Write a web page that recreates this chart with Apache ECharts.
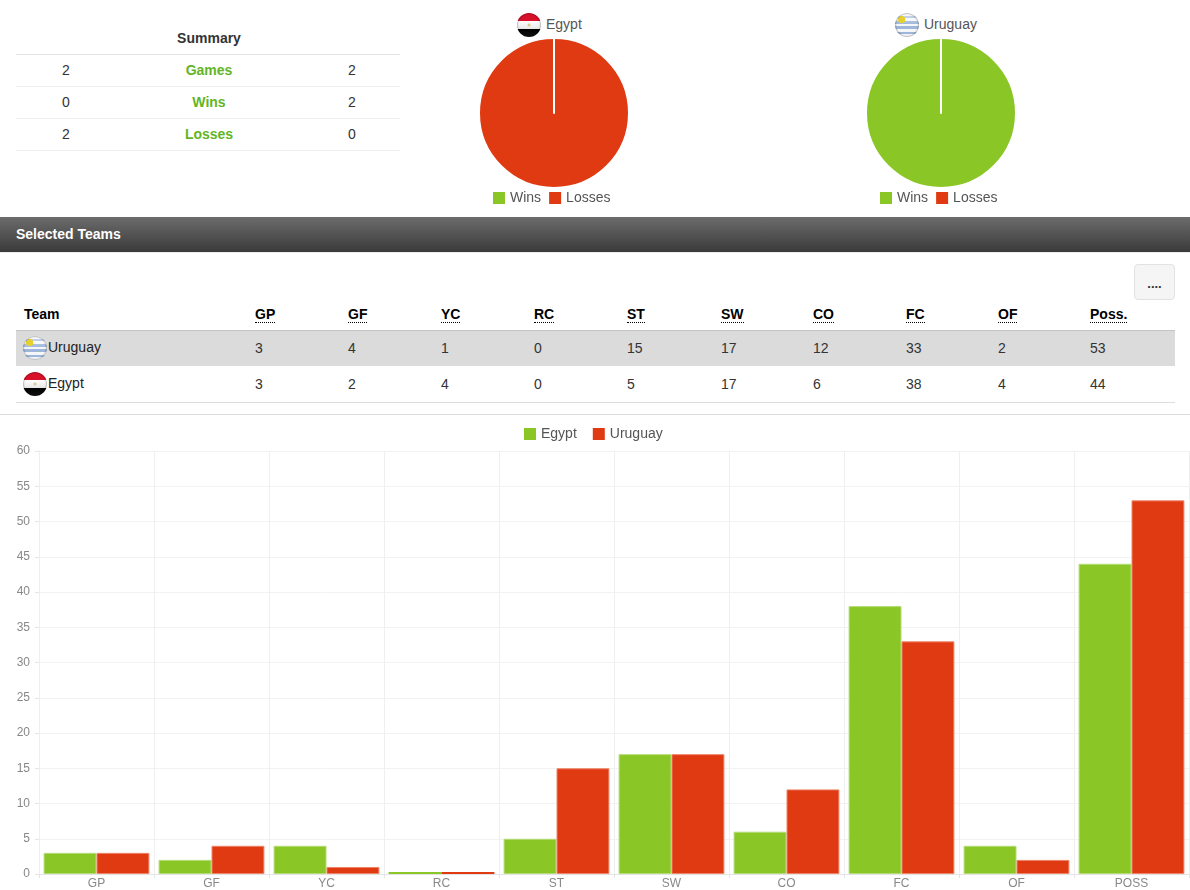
<!DOCTYPE html>
<html>
<head>
<meta charset="utf-8">
<title>Selected Teams</title>
<script src="https://cdn.jsdelivr.net/npm/echarts@6/dist/echarts.min.js"></script>
<style>
	html, body { margin: 0; padding: 0; background: #fff; }
	body { width: 1190px; height: 890px; position: relative; overflow: hidden; font-family: "Liberation Sans", Arial, sans-serif; font-size: 14px; color: #333; }
	.abs { position: absolute; }
	.line { position: absolute; height: 1px; background: #eee; }
	.cell { position: absolute; line-height: 20px; white-space: nowrap; }
	.flag { position: absolute; width: 24px; height: 24px; border-radius: 50%; box-shadow: inset 0 0 2px rgba(0,0,0,.7); }
	.egypt { background: radial-gradient(circle at 50% 50%, #d8c890 0, #d8c890 8%, transparent 10%), linear-gradient(#d8102a 0, #d8102a 33%, #fff 33%, #e8e8e8 66%, #000 66%, #111 100%); }
	.uruguay { background: radial-gradient(circle at 28% 28%, #e8d030 0, #e8d030 14%, transparent 16%), linear-gradient(rgba(255,255,255,.55), rgba(255,255,255,0) 50%), repeating-linear-gradient(#f4f6fa 0, #f4f6fa 2.7px, #9db6da 2.7px, #9db6da 5.3px); }
	.abbr { border-bottom: 1px dotted #000; }
	#bar { position: absolute; left: 0; top: 415px; width: 1190px; height: 475px; }
	.pie { position: absolute; top: 30px; width: 200px; height: 180px; }
</style>
</head>
<body>
<div id="page"></div>
<div id="pieEgypt" class="pie" style="left: 454px;"></div>
<div id="pieUruguay" class="pie" style="left: 841px;"></div>
<div id="bar"></div>

<script type="text/javascript">
	var green = '#8ac626';
	var red = '#e03a12';

	// summary table
	var summaryLabels = ['Games', 'Wins', 'Losses'];
	var summaryEgypt = [2, 0, 2];
	var summaryUruguay = [2, 2, 0];

	// pies
	var pieLabels = ['Wins', 'Losses'];
	var pieEgypt = [0, 2];
	var pieUruguay = [2, 0];

	// team table and bar chart
	var tableHeads = ['GP', 'GF', 'YC', 'RC', 'ST', 'SW', 'CO', 'FC', 'OF', 'Poss.'];
	var barCategories = ['GP', 'GF', 'YC', 'RC', 'ST', 'SW', 'CO', 'FC', 'OF', 'POSS'];
	var egyptStats = [3, 2, 4, 0, 5, 17, 6, 38, 4, 44];
	var uruguayStats = [3, 4, 1, 0, 15, 17, 12, 33, 2, 53];
	var columnX = [255, 348, 441, 534, 627, 721, 813, 906, 998, 1090];

	var html = '';
	function cell(x, y, text, extra) {
		html += '<div class="cell" style="left:' + x + 'px;top:' + (y - 10) + 'px;' + (extra || '') + '">' + text + '</div>';
	}
	function centered(cx, y, text, extra) {
		cell(cx - 100, y, text, 'width:200px;text-align:center;' + (extra || ''));
	}
	function hline(x, y, w, color) {
		html += '<div class="line" style="left:' + x + 'px;top:' + y + 'px;width:' + w + 'px;background:' + color + '"></div>';
	}

	// 汇总表
	centered(209, 38, 'Summary', 'font-weight:bold;');
	hline(16, 54, 384, '#e4e4e4');
	for (var i = 0; i < summaryLabels.length; i++) {
		var rowY = 70 + i * 32;
		centered(66, rowY, summaryEgypt[i]);
		centered(209, rowY, summaryLabels[i], 'font-weight:bold;color:#62b524;');
		centered(352, rowY, summaryUruguay[i]);
		hline(16, 86 + i * 32, 384, '#eee');
	}

	// 饼图标题
	html += '<div class="flag egypt" style="left:517px;top:13px"></div>';
	cell(546, 24, 'Egypt', 'color:#555;');
	html += '<div class="flag uruguay" style="left:895px;top:13px"></div>';
	cell(924, 24, 'Uruguay', 'color:#555;');

	// 标题栏
	html += '<div class="abs" style="left:0;top:217px;width:1190px;height:35px;background:linear-gradient(#6c6c6c,#3a3a3a);"></div>';
	cell(16, 234, 'Selected Teams', 'color:#fff;font-weight:bold;');
	hline(0, 252, 1190, '#eee');

	// 按钮
	html += '<div class="abs" style="left:1134px;top:264px;width:39px;height:34px;background:#f5f5f5;border:1px solid #e2e2e2;border-radius:4px;text-align:center;line-height:38px;font-size:13px;color:#333;font-weight:bold;">....</div>';

	// 球队表
	cell(24, 314, 'Team', 'font-weight:bold;color:#000;');
	for (var j = 0; j < tableHeads.length; j++) {
		cell(columnX[j], 314, '<span class="abbr">' + tableHeads[j] + '</span>', 'font-weight:bold;color:#000;');
	}
	html += '<div class="abs" style="left:16px;top:330px;width:1159px;height:36px;background:#dbdbdb;border-top:1px solid #c4c4c4;box-sizing:border-box;"></div>';
	html += '<div class="flag uruguay" style="left:23px;top:336px"></div>';
	cell(48, 347, 'Uruguay', 'color:#222;');
	html += '<div class="flag egypt" style="left:23px;top:372px"></div>';
	cell(48, 383, 'Egypt', 'color:#222;');
	for (var k = 0; k < tableHeads.length; k++) {
		cell(columnX[k], 348, uruguayStats[k]);
		cell(columnX[k], 384, egyptStats[k]);
	}
	hline(16, 402, 1159, '#ddd');
	hline(0, 414, 1190, '#ddd');
	document.getElementById('page').innerHTML = html;

	// 饼图
	function drawPie(id, values) {
		var chart = echarts.init(document.getElementById(id));
		var colors = [green, red];
		var slices = [];
		for (var n = 0; n < pieLabels.length; n++) {
			slices.push({ name: pieLabels[n], value: values[n], itemStyle: { color: colors[n] } });
		}
		// 值为0的扇区放最后画，白线才不会被盖住
		slices.sort(function(a, b) { return b.value - a.value; });
		chart.setOption({
			animation: false,
			legend: {
				left: 34,
				top: 156,
				selectedMode: false,
				icon: 'rect',
				itemWidth: 12,
				itemHeight: 12,
				itemGap: 8,
				itemStyle: { borderWidth: 0 },
				textStyle: { fontFamily: 'Liberation Sans', fontSize: 14, color: '#555' },
				data: pieLabels
			},
			series: [{
				type: 'pie',
				radius: [0, 75],
				center: [100, 83],
				startAngle: 90,
				label: { show: false },
				labelLine: { show: false },
				silent: true,
				itemStyle: { borderColor: '#fff', borderWidth: 2 },
				data: slices
			}]
		});
	}
	drawPie('pieEgypt', pieEgypt);
	drawPie('pieUruguay', pieUruguay);

	// 零值柱子不要浅色边框
	function barData(values) {
		return values.map(function(v) {
			return v === 0 ? { value: v, itemStyle: { borderWidth: 0 } } : v;
		});
	}

	// 柱状图
	var barChart = echarts.init(document.getElementById('bar'));
	barChart.setOption({
		animation: false,
		legend: {
			left: 519,
			top: 7,
			selectedMode: false,
			icon: 'rect',
			itemWidth: 12,
			itemHeight: 12,
			itemGap: 16,
			itemStyle: { borderWidth: 0 },
			textStyle: { fontFamily: 'Liberation Sans', fontSize: 14, color: '#555' },
			data: ['Egypt', 'Uruguay']
		},
		grid: { left: 39, right: 1, top: 36, bottom: 14 },
		xAxis: {
			type: 'category',
			data: barCategories,
			z: 1,
			axisLine: { lineStyle: { color: '#e4e4e4' } },
			axisTick: { show: true, length: 4, lineStyle: { color: '#e4e4e4' } },
			axisLabel: { color: '#888', fontSize: 12, fontFamily: 'Liberation Sans', margin: 4 },
			splitLine: { show: true, lineStyle: { color: '#efefef' } }
		},
		yAxis: {
			type: 'value',
			min: 0,
			max: 60,
			interval: 5,
			axisLine: { show: true, lineStyle: { color: '#e4e4e4' } },
			axisTick: { show: true, length: 4, lineStyle: { color: '#e4e4e4' } },
			axisLabel: { color: '#888', fontSize: 12, fontFamily: 'Liberation Sans', margin: 9 },
			splitLine: { show: true, lineStyle: { color: '#f2f2f2' } }
		},
		series: [
			{
				name: 'Egypt',
				type: 'bar',
				data: barData(egyptStats),
				barGap: 0,
				barCategoryGap: '8%',
				barMinHeight: 2,
				z: 5,
				itemStyle: { color: green, borderColor: '#b5dc74', borderWidth: 1 }
			},
			{
				name: 'Uruguay',
				type: 'bar',
				data: barData(uruguayStats),
				barMinHeight: 2,
				z: 5,
				itemStyle: { color: red, borderColor: '#ee8468', borderWidth: 1 }
			}
		]
	});
</script>
</body>
</html>
